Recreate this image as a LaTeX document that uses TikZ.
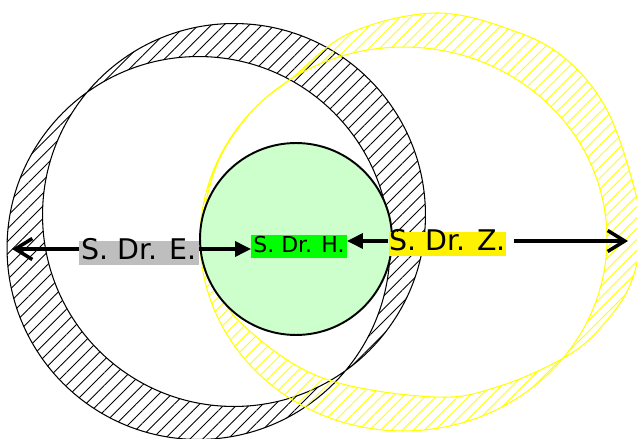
\documentclass[tikz,border=0pt]{standalone}
\usepackage{fontspec}
\setmainfont{DejaVu Sans}
\usetikzlibrary{arrows.meta,patterns.meta}
\definecolor{ringyellow}{RGB}{255,255,0}
\definecolor{corefill}{RGB}{204,255,204}
\definecolor{corelabel}{RGB}{0,255,0}
\definecolor{elabel}{RGB}{190,190,190}

\begin{document}
\begin{tikzpicture}[x=0.02cm,y=-0.02cm,>=Latex,
  lbl/.style={inner xsep=0.04cm,inner ysep=0pt,text height=1.02em,text depth=0.32em,font=\fontsize{16.2pt}{18pt}\selectfont},
  hatch/.style={pattern={Lines[angle=45,distance=#1,line width=0.5pt]}},
  thickarrow/.style={line width=2pt}]
\useasboundingbox (0,0) rectangle (637,439);
% black ring
\fill[hatch=5.1pt,pattern color=black,even odd rule] (198.5,248) circle[radius=3.83cm] (234,215) circle[radius=3.83cm];
\draw[line width=0.6pt] (198.5,248) circle[radius=3.83cm] (234,215) circle[radius=3.83cm];
% yellow ring
\def\yellowrim{plot[smooth cycle,tension=0.6] coordinates {(437,13) (517,32) (567,60) (607,110) (634,187) (641,235)
  (630,285) (603,325) (567,356) (500,386) (434,397) (320,377) (240,322) (214,275) (204,220) (219,160)
  (253,110) (292,78) (350,33)}}
\fill[hatch=4.4pt,pattern color=ringyellow,even odd rule] (403.5,239) ellipse[x radius=4.07cm,y radius=3.84cm] \yellowrim;
\draw[ringyellow,line width=0.6pt] (403.5,239) ellipse[x radius=4.07cm,y radius=3.84cm] \yellowrim;
% core and labels
\node[circle,draw,line width=1.1pt,fill=corefill,minimum size=3.84cm,inner sep=0pt] (core) at (296,239) {};
\node[lbl,fill=elabel] (edr) at (139,253) {S. Dr. E.};
\node[lbl,fill=corelabel,font=\fontsize{12.5pt}{14pt}\selectfont] (hdr) at (299,246.5) {S. Dr. H.};
\node[lbl,fill=yellow,inner xsep=0.01cm] (zdr) at (447.5,244) {S. Dr. Z.};
\coordinate (rimW) at (12,249);
\coordinate (rimE) at (628,241);
\draw[thickarrow,-{Straight Barb[length=0.34cm,width=0.42cm]}] (rimW -| edr.west) -- (rimW);
\draw[thickarrow,-{Triangle[length=0.32cm,width=0.3cm]}] (edr.east |- rimW) -- (hdr.west |- rimW);
\draw[thickarrow,-{Triangle[length=0.32cm,width=0.3cm]}] (zdr.west |- rimE) -- (hdr.east |- rimE);
\draw[thickarrow,shorten <=0.14cm,-{Straight Barb[length=0.34cm,width=0.42cm]}] (zdr.east |- rimE) -- (rimE);
\end{tikzpicture}
\end{document}
